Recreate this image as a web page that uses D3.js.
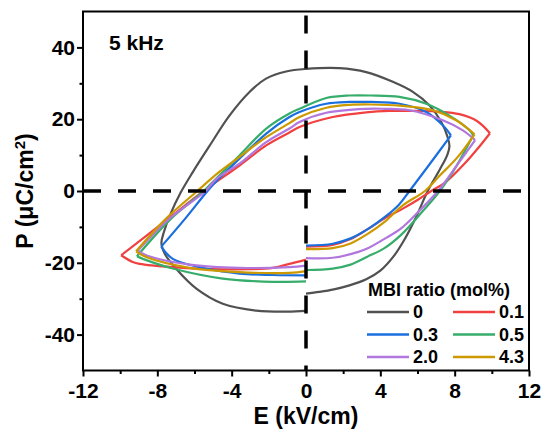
<!DOCTYPE html>
<meta charset="utf-8">
<style type="text/css">
body { margin: 0; background: #fff; }
svg text { font-family: 'Liberation Sans', Arial, sans-serif; font-weight: bold; fill: #000; }
.axis path { display: none; }
.axis line { stroke: #000; stroke-width: 2px; }
.axis text { font-size: 21px; }
.loop { fill: none; stroke-width: 2.2px; stroke-linejoin: round; }
.zero { stroke: #000; stroke-width: 3.5px; stroke-dasharray: 18, 17; }
</style>
<body>
<div class="g-chart"></div>
<script src="https://cdnjs.cloudflare.com/ajax/libs/d3/7.8.5/d3.min.js"></script>
<script type="text/javascript">

// MBI ratios (mol%) and one P-E loop for each: [E kV/cm, P uC/cm2]
var ratios = ["0", "0.1", "0.3", "0.5", "2.0", "4.3"];

var loop0 = [[0,-28.6],[0.72,-28.1],[1.5,-27.4],[2.34,-26.3],[3.24,-24.6],[4.0,-22.2],[4.7,-18.3],[5.3,-13.5],
  [5.9,-7.5],[6.55,0],[7.2,6],[7.6,10],[7.72,12.5],[7.62,15],[7.28,19.2],[6.65,23.8],[5.75,27.6],[4.67,30.4],
  [3.24,33.1],[1.8,34.2],[0,34],[-1.07,33.3],[-2.15,31.3],[-3.04,27.6],[-4.12,21],[-5.2,12.5],[-6.1,5.2],
  [-6.75,-0.5],[-7.3,-6.5],[-7.65,-11.5],[-7.78,-14.5],[-7.6,-17.5],[-7.0,-21.6],[-5.9,-27.2],[-4.48,-31.4],
  [-2.68,-33.3],[-1,-33.6],[0,-33.4]];

var loop01 = [[0,-15.5],[1.44,-15],[2.4,-13.4],[3.3,-10.7],[4.3,-7.4],[5.21,-4.9],[6,-2.5],[6.74,0],[7.5,2.4],
  [8.6,8],[9.3,12.2],[9.9,16.1],[9.2,19.5],[8.26,21.4],[7.2,22.1],[5.9,22.3],[4.5,22.3],[3.24,21.9],[1.44,20.6],
  [-0.35,17.8],[-0.89,16.3],[-2.14,12.7],[-3.58,7.1],[-5.5,0],[-7.53,-8.2],[-9.95,-17.9],
  [-9.32,-19.8],[-8.96,-20.3],[-7.17,-21.2],[-4.48,-21.8],[-1.79,-21.4],[-0.89,-20.3],[0,-19.1]];

var loop03 = [[0,-15.2],[1.44,-14.7],[2.4,-13.2],[3.3,-10.7],[4.3,-7],[5,-3.8],[5.57,0],[6.5,6.4],
  [7.8,15.5],[7.36,18.3],[6.47,22],[5.03,24.3],[3.5,24.8],[2.34,24.8],[1.09,24.3],[-0.35,22],
  [-0.89,20.6],[-2.14,16],[-3.58,9],[-4.7,3.4],[-5.3,0],[-6.5,-7.7],[-7.79,-15.5],[-7.17,-18.9],[-5.37,-21.6],
  [-3.58,-23],[-1.8,-23.4],[0,-23.5]];

var loop05 = [[0,-22],[1.44,-21.6],[2.4,-20.5],[3.3,-18.3],[4.2,-16],[5.1,-12.3],[6.3,-5.5],[7.2,0],[8.1,7],
  [9,15.5],[8.8,16.9],[7.72,21],[6.47,24.3],[5.03,26.2],[3.5,26.6],[2.34,26.6],[1.09,25.9],[-0.35,22.9],
  [-0.89,21.6],[-2.14,17.4],[-3.58,9.9],[-5.02,2.5],[-5.5,0],[-7.26,-7.7],[-9.1,-18.2],[-8.78,-18.9],
  [-7.17,-21.6],[-4.48,-24.4],[-1.79,-25.3],[0,-25.2]];

var loop20 = [[0,-18.7],[1.44,-18.6],[2.4,-17.6],[3.3,-16],[4.2,-13.4],[5.1,-10.5],[6.1,-5.5],[7.1,0],[8.1,7],
  [9.1,14.2],[8.44,16.9],[7.36,19.7],[5.57,22.5],[4.2,22.9],[3.24,22.9],[1.09,21.8],[-0.35,19.2],[-0.89,17.4],
  [-2.14,13.6],[-3.58,7.6],[-4.82,3.4],[-5.4,0],[-7.35,-7.7],[-9.05,-16.6],[-8.6,-17.9],[-6.27,-20.5],
  [-3.58,-21.4],[-0.89,-21.2],[0,-20.8]];

var loop43 = [[0,-16.2],[1.44,-15.9],[2.4,-14.6],[3.3,-12],[4.3,-8.3],[5.21,-4],[6.4,0],[7.2,4.3],[8.17,9.5],
  [9.07,15.8],[8.08,19.7],[6.83,22.5],[5.03,23.8],[3.5,24.1],[2.34,24],[1.09,23.2],[-0.35,20.6],[-0.89,18.9],
  [-2.14,15],[-3.58,9.5],[-4.7,5.2],[-5.85,0],[-7.53,-7.7],[-9.14,-16.8],[-8.6,-18.4],[-6.27,-21.4],
  [-3.58,-22.6],[-0.89,-22.8],[0,-22.3]];

var loops = [loop0, loop01, loop03, loop05, loop20, loop43];

var xTicks = [-12, -8, -4, 0, 4, 8, 12];
var xMinor = [-10, -6, -2, 2, 6, 10];
var yTicks = [-40, -20, 0, 20, 40];
var yMinor = [-30, -10, 10, 30];

var colors = ["#515151", "#F14040", "#1A6FDF", "#37AD6B", "#B177DE", "#CC9900"];

//Sets dimensions
var W = 543, H = 433;
var margin = {top: 11.5, left: 83, right: 14, bottom: 62.5};
var width = W - margin.left - margin.right,
    height = H - margin.top - margin.bottom;

var svg = d3.select(".g-chart").append("svg")
  .attr("width", W)
  .attr("height", H);

var g = svg.append("g").attr("transform", "translate(" + margin.left + "," + margin.top + ")");

var x = d3.scaleLinear().domain([-12, 12]).range([0, width]);
var y = d3.scaleLinear().domain([-50, 50]).range([height, 0]);

g.append("clipPath").attr("id", "plotclip")
  .append("rect").attr("width", width).attr("height", height);

var line = d3.line()
  .x(function(d) { return x(d[0]); })
  .y(function(d) { return y(d[1]); })
  .curve(d3.curveCatmullRom.alpha(0.5));

// split each loop at its two field extremes so the tips stay sharp
function pieces(pts, i) {
  if (ratios[i] == "0") return [pts];
  var iMax = d3.maxIndex(pts, function(d) { return d[0]; });
  var iMin = d3.minIndex(pts, function(d) { return d[0]; });
  return [pts.slice(0, iMax + 1), pts.slice(iMax, iMin + 1), pts.slice(iMin)];
}

var curves = g.append("g").attr("clip-path", "url(#plotclip)");
loops.forEach(function(pts, i) {
  curves.selectAll(null)
    .data(pieces(pts, i))
    .enter().append("path")
    .attr("class", "loop")
    .attr("stroke", colors[i])
    .attr("d", line);
});

// dashed zero lines
g.append("line").attr("class", "zero")
  .attr("x1", x(0)).attr("x2", x(0)).attr("y1", 0).attr("y2", height)
  .attr("stroke-dashoffset", 31);
g.append("line").attr("class", "zero")
  .attr("x1", 0).attr("x2", width).attr("y1", y(0)).attr("y2", y(0))
  .attr("stroke-dashoffset", 0);

//axes
var plain = function(d) { return String(d); };
g.append("g").attr("class", "axis")
  .attr("transform", "translate(0," + height + ")")
  .call(d3.axisBottom(x).tickValues(xTicks).tickSize(6).tickPadding(7).tickFormat(plain));
g.append("g").attr("class", "axis")
  .attr("transform", "translate(0," + height + ")")
  .call(d3.axisBottom(x).tickValues(xMinor).tickSize(3.5).tickFormat(""));
g.append("g").attr("class", "axis")
  .call(d3.axisLeft(y).tickValues(yTicks).tickSize(6).tickPadding(2).tickFormat(plain));
g.append("g").attr("class", "axis")
  .call(d3.axisLeft(y).tickValues(yMinor).tickSize(3.5).tickFormat(""));

g.selectAll(".axis text").style("font-family", "'Liberation Sans', Arial, sans-serif").style("font-weight", "bold");

g.append("rect")
  .attr("width", width).attr("height", height)
  .attr("fill", "none").attr("stroke", "#000").attr("stroke-width", 2);

// axis titles
svg.append("text")
  .attr("x", margin.left + width / 2).attr("y", 424)
  .attr("text-anchor", "middle").style("font-size", "23px")
  .text("E (kV/cm)");

var yl = svg.append("text")
  .attr("transform", "translate(33," + (margin.top + height / 2) + ") rotate(-90)")
  .attr("text-anchor", "middle").style("font-size", "23px");
yl.append("tspan").text("P (μC/cm");
yl.append("tspan").attr("dy", -8).style("font-size", "15px").text("2");
yl.append("tspan").attr("dy", 8).text(")");

svg.append("text")
  .attr("x", 109).attr("y", 50)
  .style("font-size", "21px")
  .text("5 kHz");

// legend
var legend = svg.append("g").attr("transform", "translate(367,0)");
legend.append("text").attr("x", 1).attr("y", 296).style("font-size", "18px").text("MBI ratio (mol%)");

var items = legend.selectAll("g.item")
  .data(ratios)
  .enter().append("g")
  .attr("class", "item")
  .attr("transform", function(d, i) {
    return "translate(" + (i % 2) * 86 + "," + (312 + Math.floor(i / 2) * 22.5) + ")";
  });
items.append("line")
  .attr("x1", 0).attr("x2", 42).attr("y1", 0).attr("y2", 0)
  .attr("stroke", function(d, i) { return colors[i]; })
  .attr("stroke-width", 2.7);
items.append("text")
  .attr("x", 46).attr("y", 6)
  .style("font-size", "18px")
  .text(function(d) { return d; });

</script>
</body>
